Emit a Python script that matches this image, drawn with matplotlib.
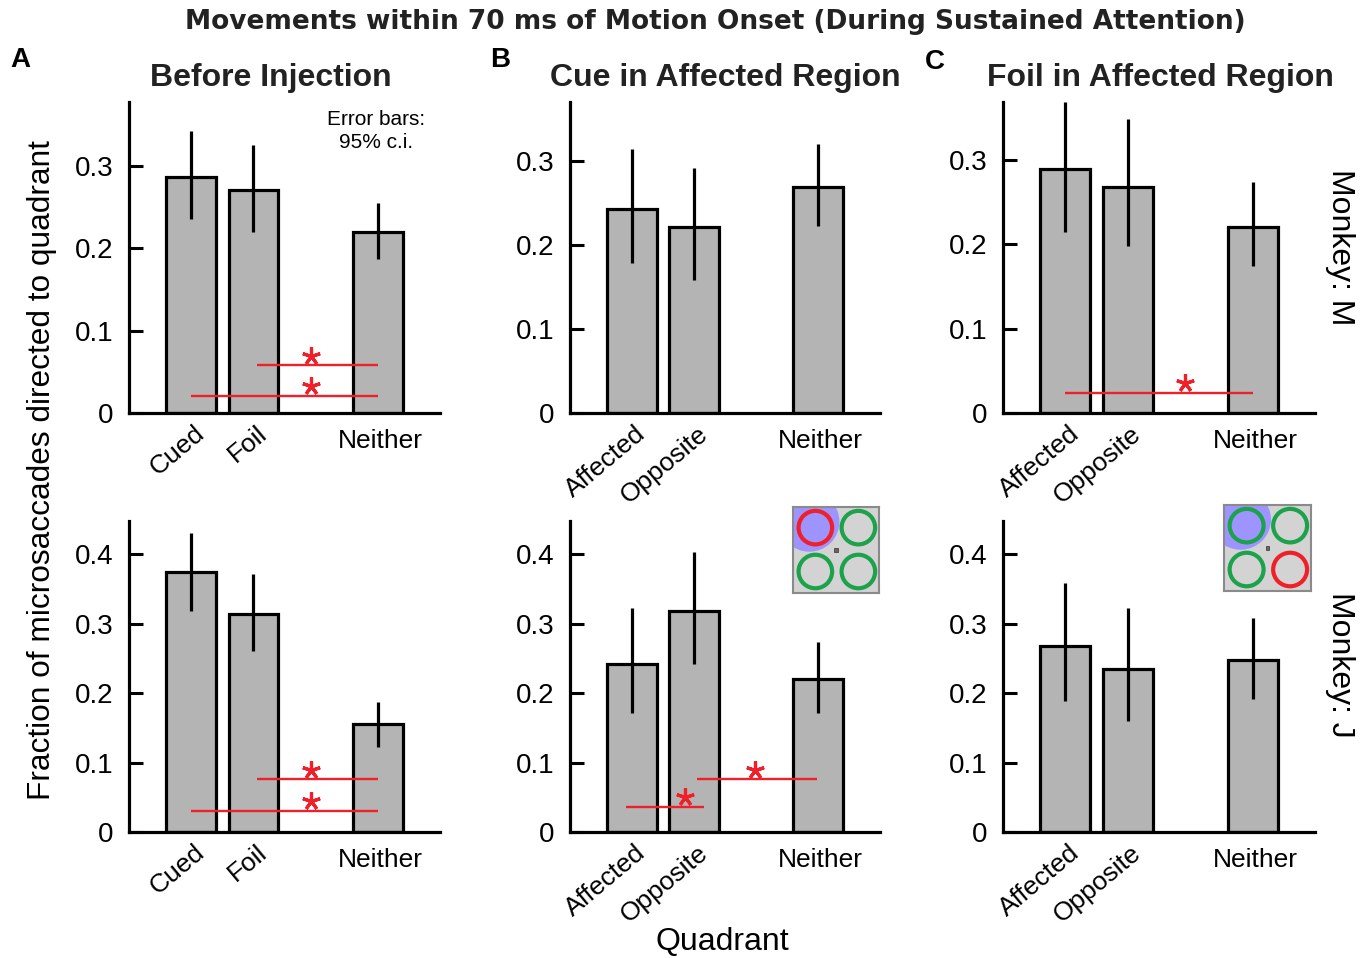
import matplotlib
matplotlib.use("Agg")
import matplotlib.pyplot as plt
from matplotlib.patches import Circle, Rectangle
from matplotlib.transforms import ScaledTranslation
from matplotlib import ticker

plt.rcParams["font.family"] = ["Liberation Sans", "DejaVu Sans"]

# categories
cats_before = ["Cued", "Foil", "Neither"]
cats_region = ["Affected", "Opposite", "Neither"]
positions = [1, 2, 4]

# bar heights and 95% c.i. (rows: monkey M top, monkey J bottom)
before_m = [0.287, 0.271, 0.220]
before_m_lo = [0.236, 0.220, 0.187]
before_m_hi = [0.343, 0.326, 0.255]
before_j = [0.375, 0.314, 0.155]
before_j_lo = [0.318, 0.261, 0.123]
before_j_hi = [0.431, 0.372, 0.187]

cue_m = [0.243, 0.221, 0.269]
cue_m_lo = [0.179, 0.158, 0.222]
cue_m_hi = [0.314, 0.291, 0.320]
cue_j = [0.242, 0.319, 0.220]
cue_j_lo = [0.172, 0.242, 0.172]
cue_j_hi = [0.322, 0.404, 0.273]

foil_m = [0.289, 0.268, 0.221]
foil_m_lo = [0.215, 0.198, 0.174]
foil_m_hi = [0.369, 0.349, 0.274]
foil_j = [0.268, 0.235, 0.248]
foil_j_lo = [0.189, 0.160, 0.192]
foil_j_hi = [0.358, 0.323, 0.308]

# significance bars: (x start, x end, y, star x)
sig_before_m = [(2.05, 4.0, 0.058, 2.92), (1.0, 4.0, 0.021, 2.92)]
sig_before_j = [(2.05, 4.0, 0.076, 2.92), (1.0, 4.0, 0.030, 2.92)]
sig_cue_m = []
sig_cue_j = [(0.90, 2.16, 0.036, 1.85), (2.05, 3.98, 0.076, 2.98)]
sig_foil_m = [(1.0, 4.0, 0.024, 2.92)]
sig_foil_j = []

RED = "#f0202a"
GREEN = "#1ba24a"
BAR_GRAY = "#b4b4b4"

W, H = 1366, 958
fig = plt.figure(figsize=(W / 100, H / 100), dpi=100, facecolor="white")


def px_axes(x0, x1, y_top, y_bot):
    return fig.add_axes([x0 / W, 1 - y_bot / H, (x1 - x0) / W, (y_bot - y_top) / H])


def fmt(v, _pos):
    return "0" if abs(v) < 1e-9 else f"{v:.1f}"


def draw_panel(ax, cats, vals, lo, hi, sigs, ytop, yticks):
    yerr = [[v - l for v, l in zip(vals, lo)], [h - v for v, h in zip(vals, hi)]]
    ax.bar(positions, vals, width=0.8, color=BAR_GRAY, edgecolor="black",
           linewidth=2.3, zorder=2)
    ax.errorbar(positions, vals, yerr=yerr, fmt="none", ecolor="black",
                elinewidth=2.3, capsize=0, zorder=3)
    # asterisk sits a few points above its line
    lift = ax.transData + ScaledTranslation(0, 7 / 72, fig.dpi_scale_trans)
    for x0, x1, y, xs in sigs:
        ax.plot([x0, x1], [y, y], color=RED, lw=1.7, zorder=4,
                solid_capstyle="butt")
        ax.plot([xs], [y], marker=(5, 2, 0), ms=13, mew=2.3, color=RED,
                transform=lift, zorder=5, clip_on=False)
    ax.set_xlim(0, 5)
    ax.set_ylim(0, ytop)
    ax.set_yticks(yticks)
    ax.yaxis.set_major_formatter(ticker.FuncFormatter(fmt))
    ax.tick_params(axis="y", direction="in", length=10, width=2.2,
                   labelsize=20, pad=11)
    ax.set_xticks([])
    for side in ("top", "right"):
        ax.spines[side].set_visible(False)
    for side in ("left", "bottom"):
        ax.spines[side].set_linewidth(2.3)
    ax.patch.set_alpha(0)
    for x, lab in zip(positions, cats):
        if lab == "Neither":
            ax.annotate(lab, xy=(x, 0), xycoords=("data", "axes fraction"),
                        xytext=(2, -11.5), textcoords="offset points",
                        ha="center", va="top", fontsize=19)
        else:
            ax.annotate(lab, xy=(x, 0), xycoords=("data", "axes fraction"),
                        xytext=(2, -6), textcoords="offset points",
                        ha="right", va="top", rotation=40,
                        rotation_mode="anchor", fontsize=19)


def draw_inset(rect, red_index):
    ax = fig.add_axes(rect)
    ax.set_xlim(0, 1)
    ax.set_ylim(0, 1)
    ax.set_xticks([])
    ax.set_yticks([])
    ax.set_facecolor("#d3d3d3")
    for s in ax.spines.values():
        s.set_color("#8a8a8a")
        s.set_linewidth(1.5)
    clip = Rectangle((0, 0), 1, 1, transform=ax.transAxes)
    blob = Circle((0.19, 0.83), 0.35, color="#9d94ff", lw=0, zorder=1)
    ax.add_patch(blob)
    blob.set_clip_path(clip)
    centers = [(0.26, 0.76), (0.76, 0.76), (0.26, 0.25), (0.76, 0.25)]
    for i, c in enumerate(centers):
        ax.add_patch(Circle(c, 0.195, fill=False, lw=3.0, zorder=2,
                            edgecolor=RED if i == red_index else GREEN))
    ax.add_patch(Rectangle((0.48, 0.48), 0.04, 0.04, facecolor="#666666",
                           edgecolor="#333333", lw=0.5, zorder=3))


top = (102, 413)
bot = (521, 832)
yt_top = [0, 0.1, 0.2, 0.3]
yt_bot = [0, 0.1, 0.2, 0.3, 0.4]

ax = px_axes(129, 440, *top)
draw_panel(ax, cats_before, before_m, before_m_lo, before_m_hi, sig_before_m, 0.378, yt_top)
ax = px_axes(129, 440, *bot)
draw_panel(ax, cats_before, before_j, before_j_lo, before_j_hi, sig_before_j, 0.448, yt_bot)
ax = px_axes(570, 880, *top)
draw_panel(ax, cats_region, cue_m, cue_m_lo, cue_m_hi, sig_cue_m, 0.37, yt_top)
ax = px_axes(570, 880, *bot)
draw_panel(ax, cats_region, cue_j, cue_j_lo, cue_j_hi, sig_cue_j, 0.448, yt_bot)
ax = px_axes(1003, 1315, *top)
draw_panel(ax, cats_region, foil_m, foil_m_lo, foil_m_hi, sig_foil_m, 0.369, yt_top)
ax = px_axes(1003, 1315, *bot)
draw_panel(ax, cats_region, foil_j, foil_j_lo, foil_j_hi, sig_foil_j, 0.448, yt_bot)

draw_inset([793 / W, 1 - 593 / H, 86 / W, 86 / H], 0)
draw_inset([1224 / W, 1 - 591 / H, 87 / W, 86 / H], 3)

fig.text(715 / W, 1 - 22 / H, "Movements within 70 ms of Motion Onset (During Sustained Attention)",
         ha="center", va="center", fontsize=19, fontweight="bold", color="#222222",
         family=["DejaVu Sans"])
for x, title in [(271, "Before Injection"), (725, "Cue in Affected Region"),
                 (1160, "Foil in Affected Region")]:
    fig.text(x / W, 1 - 78 / H, title, ha="center", va="center", fontsize=23,
             fontweight="bold", color="#222222")
for x, y, letter in [(20, 60, "A"), (500, 60, "B"), (935, 62, "C")]:
    fig.text(x / W, 1 - y / H, letter, ha="center", va="center", fontsize=20,
             fontweight="bold")

fig.text(376 / W, 1 - 131 / H, "Error bars:\n95% c.i.", ha="center", va="center",
         fontsize=15, linespacing=1.3)
fig.text(42 / W, 1 - 470 / H, "Fraction of microsaccades directed to quadrant",
         ha="center", va="center", rotation=90, fontsize=22.8)
fig.text(722 / W, 1 - 942 / H, "Quadrant", ha="center", va="center", fontsize=23)
fig.text(1340 / W, 1 - 247 / H, "Monkey: M", ha="center", va="center", rotation=270, fontsize=23)
fig.text(1340 / W, 1 - 665 / H, "Monkey: J", ha="center", va="center", rotation=270, fontsize=23)

fig.savefig("out.png", dpi=100, facecolor="white")
